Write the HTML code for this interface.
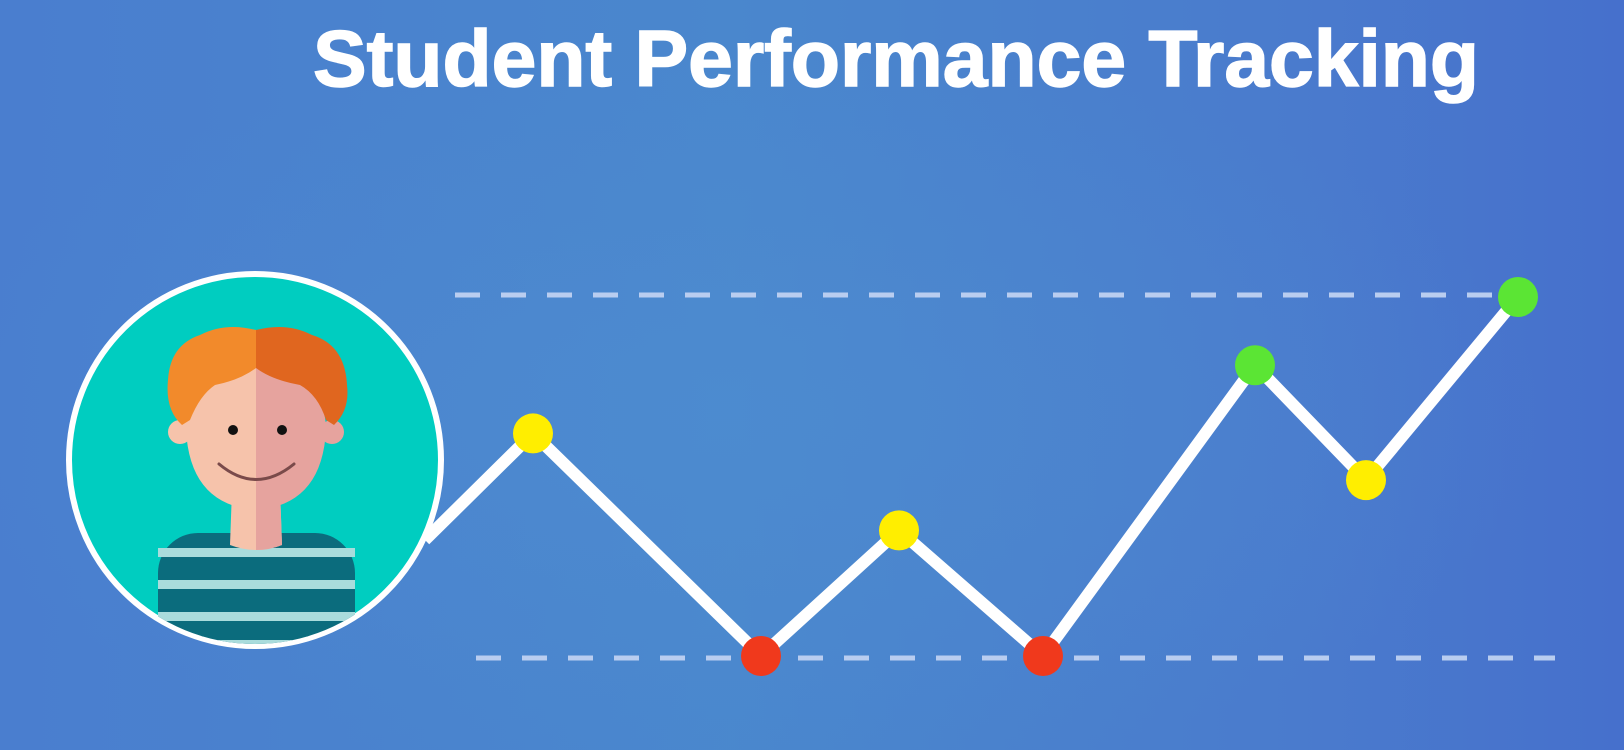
<!DOCTYPE html>
<html><head><meta charset="utf-8"><style>
html,body{margin:0;padding:0;width:1624px;height:750px;overflow:hidden}
svg{display:block}
</style></head><body>
<svg id="chart" width="1624" height="750" viewBox="0 0 1624 750" xmlns="http://www.w3.org/2000/svg">
<defs>
<linearGradient id="bg" x1="0" y1="0" x2="1" y2="0">
<stop offset="0" stop-color="#4a7ecf"/><stop offset="0.45" stop-color="#4a87cd"/><stop offset="0.8" stop-color="#4a7bcd"/><stop offset="1" stop-color="#4670cc"/>
</linearGradient>
<radialGradient id="glow" cx="0.45" cy="0.55" r="0.5"><stop offset="0" stop-color="#4f8fd2" stop-opacity="0.5"/><stop offset="1" stop-color="#4f8fd2" stop-opacity="0"/></radialGradient>
<clipPath id="avClip"><circle cx="255" cy="460" r="184"/></clipPath>
</defs>
<rect width="1624" height="750" fill="url(#bg)"/>
<rect width="1624" height="750" fill="url(#glow)"/>
<text x="313" y="86" textLength="1166" lengthAdjust="spacingAndGlyphs" font-family="'Liberation Sans', sans-serif" font-weight="bold" font-size="80" fill="#ffffff" stroke="#ffffff" stroke-width="1.5">Student Performance Tracking</text>
<line x1="455" y1="295" x2="1500" y2="295" stroke="#b9cdf0" stroke-width="5" stroke-dasharray="25 21"/>
<line x1="476" y1="658" x2="1555" y2="658" stroke="#b9cdf0" stroke-width="5" stroke-dasharray="25 21"/>
<g id="series"></g>
<g>
<circle cx="255" cy="460" r="186" fill="#00cdc0" stroke="#ffffff" stroke-width="6"/>
<g clip-path="url(#avClip)">
<rect x="158" y="533" width="197" height="140" rx="40" fill="#0b6c7d"/>
<rect x="158" y="548" width="197" height="9" fill="#a9dcdc"/>
<rect x="158" y="580" width="197" height="9" fill="#a9dcdc"/>
<rect x="158" y="612" width="197" height="9" fill="#a9dcdc"/>
<rect x="158" y="640" width="197" height="9" fill="#a9dcdc"/>
<path d="M232 490 L280 490 L282 545 Q256 555 230 545 Z" fill="#f6c3ab"/>
<path d="M256 490 L280 490 L282 545 Q270 550 256 550 Z" fill="#e6a39e"/>
</g>
<circle cx="180" cy="432" r="12" fill="#f6c3ab"/>
<circle cx="332" cy="432" r="12" fill="#e6a39e"/>
<path d="M256 362 Q188 362 186 430 Q190 505 256 510 Z" fill="#f6c3ab"/>
<path d="M256 362 Q324 362 326 430 Q322 505 256 510 Z" fill="#e6a39e"/>
<path d="M256 330 Q225 322 200 335 Q170 345 168 380 Q165 410 182 425 L190 420 Q200 395 215 385 Q240 380 256 368 Z" fill="#f28a2b"/>
<path d="M256 330 Q287 322 312 335 Q345 345 347 385 Q350 410 334 425 L326 420 Q318 395 300 385 Q272 380 256 368 Z" fill="#e0661f"/>
<circle cx="233" cy="430" r="5" fill="#111"/>
<circle cx="282" cy="430" r="5" fill="#111"/>
<path d="M219 464 Q256 495 294 464" fill="none" stroke="#7a4a4a" stroke-width="3" stroke-linecap="round"/>
</g>
</svg>
<script>
var weeks = [10, 32.8, 46.6, 61, 82.2, 93.3, 108.5];
var scores = [62, 0, 35, 0, 81, 49, 100];
var dotColors = ["#ffee00", "#f0391c", "#ffee00", "#f0391c", "#5be534", "#ffee00", "#5be534"];
function xScale(d){ return 433 + d * 10; }
function yScale(v){ return 656 - v * 3.59; }
var ns = "http://www.w3.org/2000/svg";
var g = document.getElementById('series');
var pts = [[425, 540]];
for (var i = 0; i < weeks.length; i++) pts.push([xScale(weeks[i]), yScale(scores[i])]);
var line = document.createElementNS(ns, 'polyline');
line.setAttribute('points', pts.map(function(p){return p.join(',');}).join(' '));
line.setAttribute('fill', 'none');
line.setAttribute('stroke', '#ffffff');
line.setAttribute('stroke-width', '12');
line.setAttribute('stroke-linejoin', 'round');


g.appendChild(line);
for (var j = 0; j < weeks.length; j++) {
  var c = document.createElementNS(ns, 'circle');
  c.setAttribute('cx', xScale(weeks[j]));
  c.setAttribute('cy', yScale(scores[j]));
  c.setAttribute('r', '20');
  c.setAttribute('fill', dotColors[j]);
  
  
  g.appendChild(c);
}
</script>
</body></html>
